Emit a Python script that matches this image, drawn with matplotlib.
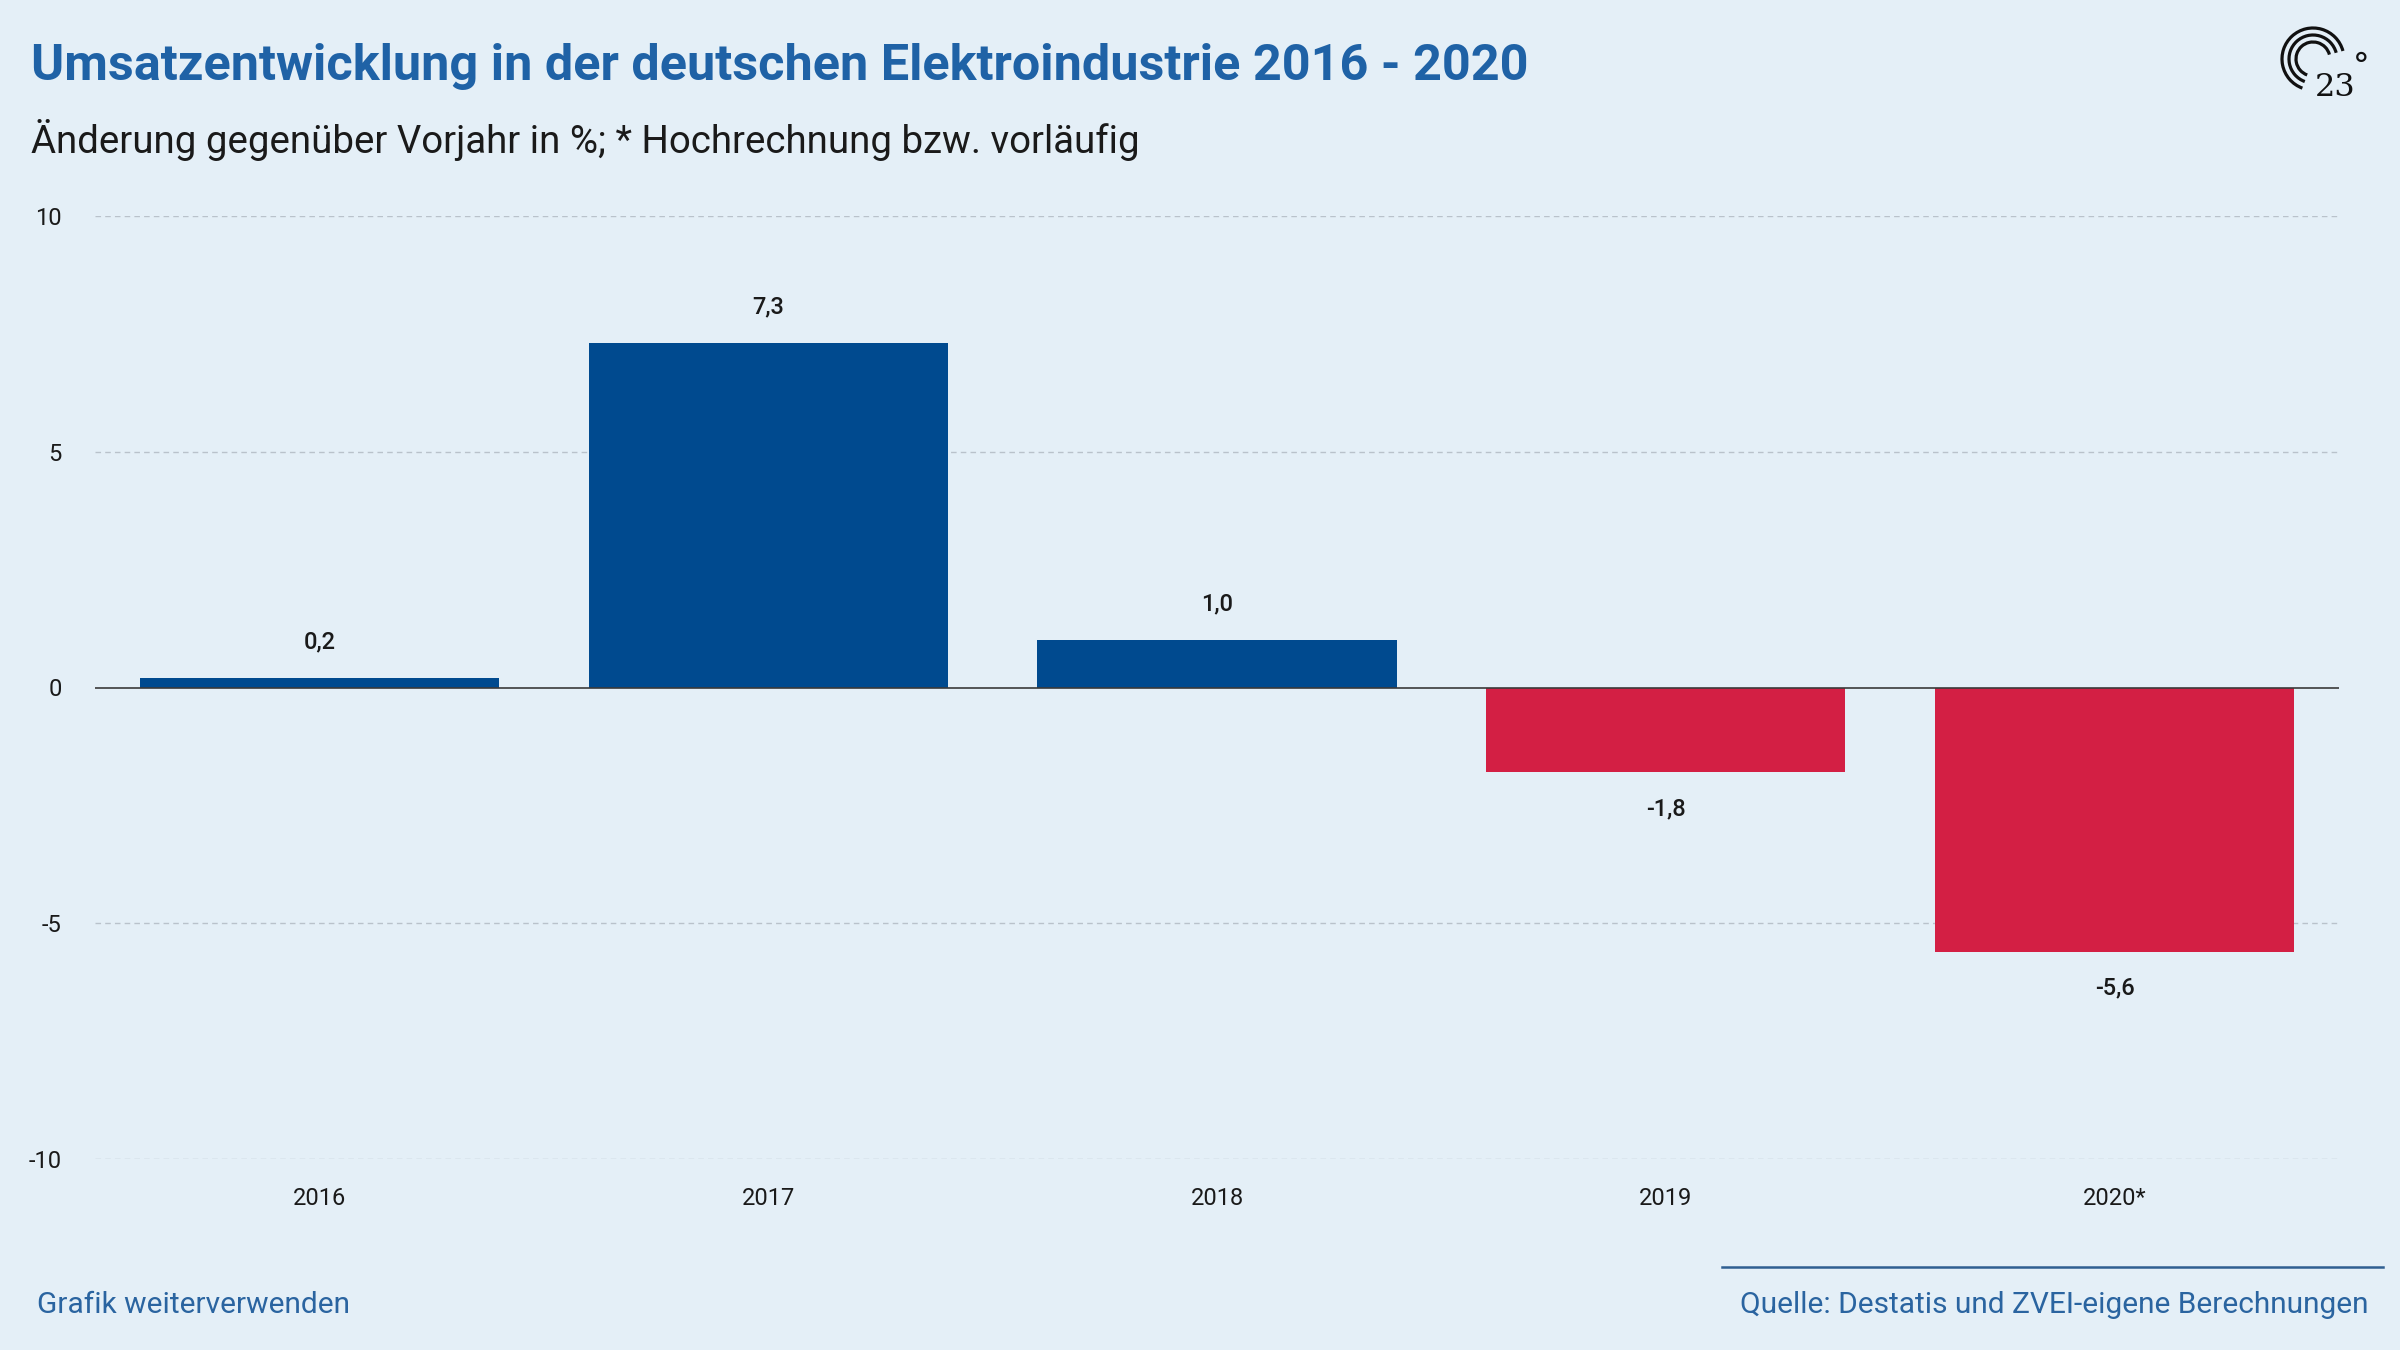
"""Umsatzentwicklung in der deutschen Elektroindustrie 2016 - 2020 (bar chart)."""

import matplotlib

matplotlib.use("Agg")
import matplotlib.pyplot as plt  # noqa: E402
from matplotlib.patches import Arc  # noqa: E402

YEARS = ["2016", "2017", "2018", "2019", "2020*"]
CHANGE = [0.2, 7.3, 1.0, -1.8, -5.6]
Y_TICKS = [-10, -5, 0, 5, 10]

BG = "#e4eff7"
BLUE = "#004a8f"
RED = "#d31f44"
TITLE_BLUE = "#1f62a6"
TEXT = "#1a1a1a"

W, H = 2400, 1350

plt.rcParams["font.family"] = ["Roboto", "DejaVu Sans"]


def fx(px):
    return px / W


def fy(py):
    return 1 - py / H


def main() -> None:
    fig = plt.figure(figsize=(24, 13.5), dpi=100, facecolor=BG)

    ax = fig.add_axes([fx(95), fy(1159), fx(2339) - fx(95), fy(216) - fy(1159)])
    ax.set_facecolor(BG)
    x = list(range(len(YEARS)))
    colours = [BLUE if v >= 0 else RED for v in CHANGE]
    ax.bar(x, CHANGE, width=0.8, color=colours, zorder=3)

    for xi, v in zip(x, CHANGE):
        ax.annotate(f"{v:.1f}".replace(".", ","), (xi, v),
                    xytext=(0, 26 if v >= 0 else -26), textcoords="offset points",
                    ha="center", va="center", fontsize=17, fontweight=500,
                    color=TEXT)

    ax.set_xlim(-0.5, len(YEARS) - 0.5)
    ax.set_ylim(-10, 10)
    ax.set_yticks(Y_TICKS)
    ax.set_yticklabels([str(t) for t in Y_TICKS])
    ax.set_xticks(x)
    ax.set_xticklabels(YEARS)
    ax.tick_params(axis="both", length=0, labelsize=17, colors=TEXT)
    ax.tick_params(axis="y", pad=24)
    ax.tick_params(axis="x", pad=20)
    for s in ax.spines.values():
        s.set_visible(False)
    for t in Y_TICKS:
        if t == 0:
            ax.axhline(0, color="#3a3a3a", lw=1.2, zorder=4)
        else:
            ax.axhline(t, color="#b9c2cb", lw=1.0, ls=(0, (4, 3)), zorder=1)

    fig.text(fx(31), fy(80), "Umsatzentwicklung in der deutschen Elektroindustrie 2016 - 2020",
             fontsize=36.3, fontweight="bold", color=TITLE_BLUE, ha="left", va="baseline")
    fig.text(fx(31), fy(153), "Änderung gegenüber Vorjahr in %; * Hochrechnung bzw. vorläufig",
             fontsize=27.6, color=TEXT, ha="left", va="baseline")

    fig.text(fx(37), fy(1313), "Grafik weiterverwenden", fontsize=21.5,
             color="#2a64a0", ha="left", va="baseline")
    fig.text(fx(2369), fy(1313), "Quelle: Destatis und ZVEI-eigene Berechnungen",
             fontsize=21.5, color="#2a64a0", ha="right", va="baseline")
    fig.add_artist(plt.Line2D([fx(1722), fx(2383)], [fy(1267), fy(1267)],
                              color="#2f5f91", lw=1.8))

    # 23° logo, drawn in a small pixel-unit axes
    lx0, lx1, ly0, ly1 = 2260, 2390, 10, 120
    lax = fig.add_axes([fx(lx0), fy(ly1), fx(lx1) - fx(lx0), fy(ly0) - fy(ly1)])
    lax.set_xlim(lx0, lx1)
    lax.set_ylim(H - ly1, H - ly0)
    lax.axis("off")
    cx, cy = 2313, H - 59
    for r in (31, 24, 17):
        lax.add_patch(Arc((cx, cy), 2 * r, 2 * r, theta1=15, theta2=250,
                          color="#111111", lw=2.3))
    lax.text(2315, H - 96, "23", fontsize=23, family="DejaVu Serif",
             color="#111111", ha="left", va="baseline")
    lax.text(2361, H - 68, "°", fontsize=24, family="DejaVu Serif",
             color="#111111", ha="center", va="center")

    fig.savefig("out.png", dpi=100, facecolor=BG)


if __name__ == "__main__":
    main()
